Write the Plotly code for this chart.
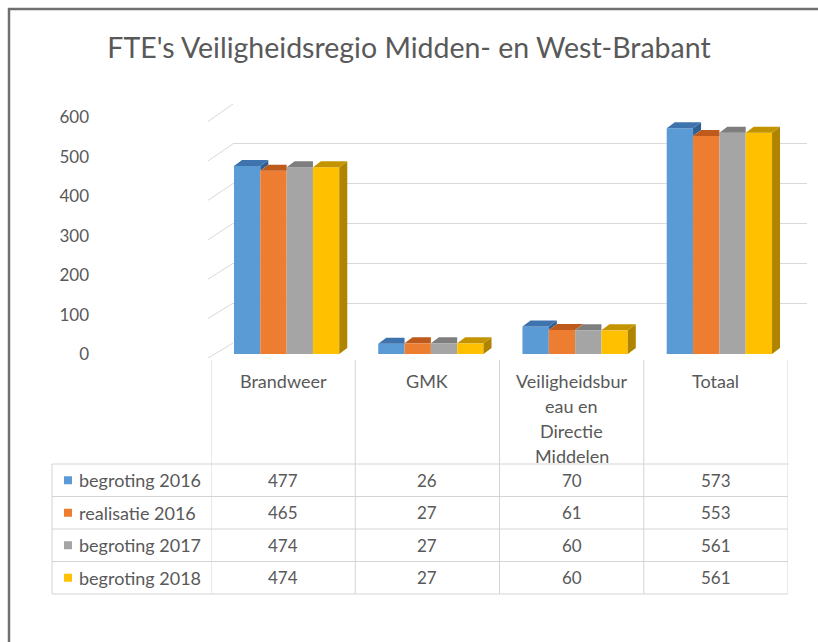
import plotly.graph_objects as go

# ---------------- data ----------------
categories = ["Brandweer", "GMK", "Veiligheidsbureau en Directie Middelen", "Totaal"]
header_lines = [["Brandweer"], ["GMK"], ["Veiligheidsbur", "eau en", "Directie", "Middelen"], ["Totaal"]]
series_names = ["begroting 2016", "realisatie 2016", "begroting 2017", "begroting 2018"]
begroting_2016 = [477, 26, 70, 573]
realisatie_2016 = [465, 27, 61, 553]
begroting_2017 = [474, 27, 60, 561]
begroting_2018 = [474, 27, 60, 561]
series_values = [begroting_2016, realisatie_2016, begroting_2017, begroting_2018]
y_ticks = [0, 100, 200, 300, 400, 500, 600]
title_text = "FTE's Veiligheidsregio Midden- en West-Brabant"

# ---------------- style ----------------
W, H = 818, 642
FONT = "Lato"
TXT = "#595959"
front_col = ["#5B9BD5", "#ED7D31", "#A5A5A5", "#FFC000"]
top_col = ["#3E73AD", "#BE5A1C", "#7E7E7E", "#C49300"]
side_col = ["#2F5F93", "#A24C16", "#6E6E6E", "#AE8400"]
GRID = "#D9D9D9"
TABLE_LINE = "#D4D4D4"

def px(x):
    return x / W

def py(y):
    return 1 - y / H

# front plane (bars) and back wall (grid) in pixels
F_L, F_R, F_B, F_T = 211, 788, 354, 117.5
B_L, B_R, B_B, B_T = 233, 807, 343, 104
bargap = 0.27
nser = len(series_values)
group_w = 1 - bargap
bw = group_w / nser
col_px = (F_R - F_L) / len(categories)
dx = 8 / col_px                                   # depth in category units
dy = 6 * 600 / (F_B - F_T)                        # depth in value units
shift = 3.5 / col_px                              # bars sit slightly right (3D depth)
xpos = [i + shift for i in range(len(categories))]

fig = go.Figure()

# invisible trace on back wall subplot so its grid is drawn
fig.add_trace(go.Scatter(x=[0], y=[0], xaxis="x", yaxis="y", mode="markers",
                         marker=dict(opacity=0), showlegend=False, hoverinfo="skip"))

# front faces
for s, (name, vals) in enumerate(zip(series_names, series_values)):
    fig.add_trace(go.Bar(x=xpos, y=vals, name=name,
                         marker=dict(color=front_col[s], line=dict(width=0)),
                         xaxis="x2", yaxis="y2", showlegend=False))

# top and side faces
for s, vals in enumerate(series_values):
    for i, v in enumerate(vals):
        x0 = xpos[i] - group_w / 2 + s * bw
        x1 = x0 + bw
        nxt = series_values[s + 1][i] if s + 1 < nser else None
        if nxt is None:
            sx = [x1, x1 + dx, x1 + dx, x1, x1]
            sy = [0, dy, v + dy, v, 0]
            fig.add_trace(go.Scatter(x=sx, y=sy, xaxis="x2", yaxis="y2", mode="lines",
                                     fill="toself", fillcolor=side_col[s], line=dict(width=0),
                                     showlegend=False, hoverinfo="skip"))
        elif nxt < v:
            sx = [x1, x1, x1 + dx, x1 + dx, x1]
            sy = [nxt, v, v + dy, nxt + dy, nxt]
            fig.add_trace(go.Scatter(x=sx, y=sy, xaxis="x2", yaxis="y2", mode="lines",
                                     fill="toself", fillcolor=side_col[s], line=dict(width=0),
                                     showlegend=False, hoverinfo="skip"))
        if nxt is not None and nxt >= v:
            tx = [x0, x1, x1, x0 + dx, x0]
        else:
            tx = [x0, x1, x1 + dx, x0 + dx, x0]
        ty = [v, v, v + dy, v + dy, v]
        fig.add_trace(go.Scatter(x=tx, y=ty, xaxis="x2", yaxis="y2", mode="lines",
                                 fill="toself", fillcolor=top_col[s], line=dict(width=0),
                                 showlegend=False, hoverinfo="skip"))

shapes = []
annotations = []

# outer frame
shapes.append(dict(type="rect", xref="paper", yref="paper", x0=px(9), x1=px(840),
                   y0=py(660), y1=py(9), line=dict(color="#6F6F6F", width=2.5)))

def front_y(v):
    return F_B - v * (F_B - F_T) / 600

def back_y(v):
    return B_B - v * (B_B - B_T) / 600

# left wall diagonals
for v in y_ticks:
    shapes.append(dict(type="line", xref="paper", yref="paper",
                       x0=px(F_L - 3), y0=py(front_y(v) + 4), x1=px(B_L), y1=py(back_y(v)),
                       line=dict(color=GRID, width=1)))

# data table
row_h = 32.5
table_top = 360
rows_top = 464
n_rows = len(series_names)
table_bottom = rows_top + n_rows * row_h
for k in range(len(categories) + 1):
    shapes.append(dict(type="line", xref="x2", yref="paper", x0=k - 0.5, x1=k - 0.5,
                       y0=py(table_top), y1=py(table_bottom), line=dict(color=TABLE_LINE, width=1)))
shapes.append(dict(type="line", xref="paper", yref="paper", x0=px(52), x1=px(52),
                   y0=py(rows_top), y1=py(table_bottom), line=dict(color=TABLE_LINE, width=1)))
for r in range(n_rows + 1):
    yy = rows_top + r * row_h
    shapes.append(dict(type="line", xref="paper", yref="paper", x0=px(52), x1=px(F_R),
                       y0=py(yy), y1=py(yy), line=dict(color=TABLE_LINE, width=1)))

# header texts
for i, lines in enumerate(header_lines):
    for j, t in enumerate(lines):
        annotations.append(dict(text=t, xref="x2", yref="paper", x=i, y=py(381 + j * 25),
                                showarrow=False, xanchor="center", yanchor="middle",
                                font=dict(family=FONT, size=18, color=TXT)))

# rows
for r, (name, vals) in enumerate(zip(series_names, series_values)):
    yc = rows_top + r * row_h + row_h / 2
    shapes.append(dict(type="rect", xref="paper", yref="paper", x0=px(64), x1=px(72),
                       y0=py(yc + 4), y1=py(yc - 4), fillcolor=front_col[r], line=dict(width=0)))
    annotations.append(dict(text=name, xref="paper", yref="paper", x=px(77), y=py(yc),
                            showarrow=False, xanchor="left", yanchor="middle",
                            font=dict(family=FONT, size=18, color=TXT)))
    for i, v in enumerate(vals):
        annotations.append(dict(text=str(v), xref="x2", yref="paper", x=i, y=py(yc),
                                showarrow=False, xanchor="center", yanchor="middle",
                                font=dict(family=FONT, size=17, color=TXT)))

fig.update_layout(
    width=W, height=H,
    margin=dict(l=0, r=0, t=0, b=0, pad=0, autoexpand=False),
    paper_bgcolor="white", plot_bgcolor="rgba(0,0,0,0)",
    showlegend=False,
    barmode="group", bargap=bargap, bargroupgap=0,
    title=dict(text=title_text, x=0.5, xanchor="center", y=py(48), yanchor="middle",
               font=dict(family=FONT, size=28.5, color=TXT)),
    xaxis=dict(domain=[px(B_L), px(B_R)], range=[0, 1], showgrid=False, showticklabels=False,
               zeroline=False, showline=False, fixedrange=True),
    yaxis=dict(domain=[py(B_B + 0.5), py(B_T - 0.5)], range=[-1.25, 601.25], tickvals=y_ticks,
               showgrid=True, gridcolor=GRID, gridwidth=1, showticklabels=False,
               zeroline=False, showline=False, fixedrange=True),
    xaxis2=dict(domain=[px(F_L), px(F_R)], range=[-0.5, len(categories) - 0.5], anchor="y2",
                showgrid=False, showticklabels=False, zeroline=False, showline=False, fixedrange=True),
    yaxis2=dict(domain=[py(F_B), py(F_T)], range=[0, 600], tickvals=y_ticks,
                anchor="free", position=px(89), showgrid=False, zeroline=False, showline=False,
                ticks="", tickfont=dict(family=FONT, size=17, color=TXT), fixedrange=True),
    shapes=shapes,
    annotations=annotations,
    font=dict(family=FONT, color=TXT),
)

fig.write_html("out.html", config={"displayModeBar": False},
               post_script="document.body.style.margin='0';document.body.style.overflow='hidden';")
